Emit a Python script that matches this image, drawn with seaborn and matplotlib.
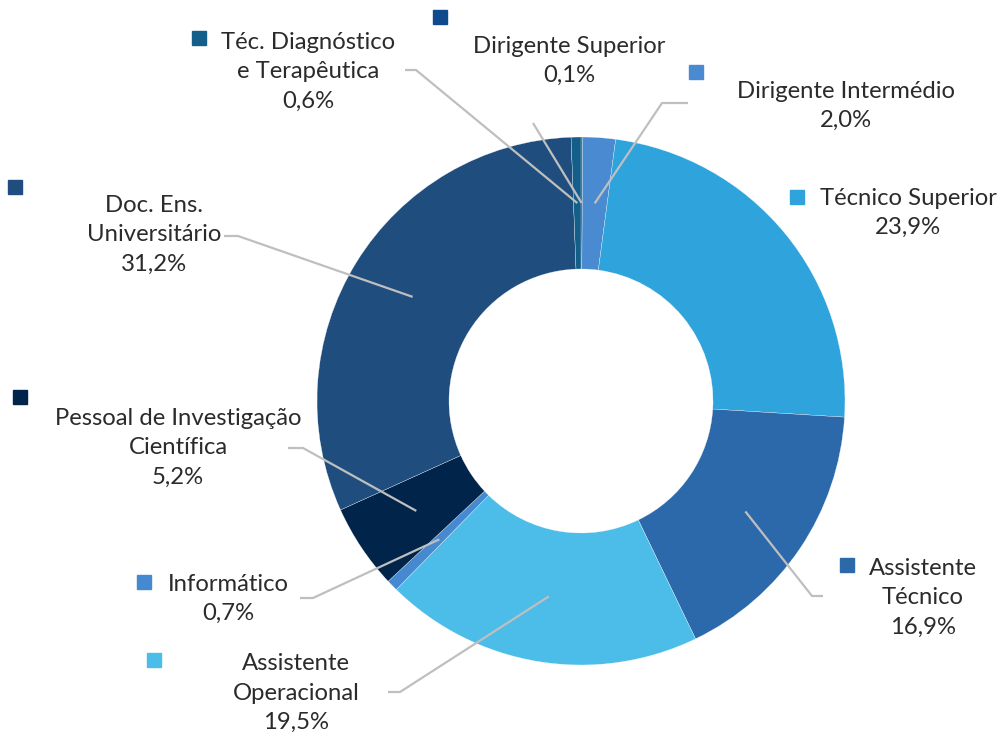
import numpy as np
import matplotlib
matplotlib.use("Agg")
import matplotlib.pyplot as plt
import seaborn as sns

# dados (% de trabalhadores por carreira), ordem no sentido horário a partir do topo
categorias = ["Dirigente Superior", "Dirigente Intermédio", "Técnico Superior",
              "Assistente\nTécnico", "Assistente\nOperacional", "Informático",
              "Pessoal de Investigação\nCientífica", "Doc. Ens.\nUniversitário",
              "Téc. Diagnóstico\ne Terapêutica"]
valores = [0.1, 2.0, 23.9, 16.9, 19.5, 0.7, 5.2, 31.2, 0.6]
cores = ["#0e4a8c", "#4a8ad0", "#2fa3dc", "#2b69ab", "#4bbde8",
         "#4589d0", "#00244a", "#1f4e7e", "#145f8a"]

# layout em pixels da imagem (x, y a partir do topo)
CX, CY, R = 581, 401, 264
pos_texto = [(569, 61), (846, 106), (908, 213), (923, 598), (296, 693),
             (228, 599), (178, 448), (154, 235), (308, 72)]
pos_quadrado = [(440, 17), (696, 72), (797, 197), (847, 565), (154, 660),
                (144, 582), (20, 397), (15, 187), (199, 38)]
# pontos do traço de ligação do lado do rótulo (o fim fica no meio do anel)
ligacoes = [[(533, 123)], [(688, 103), (662, 103)], [],
            [(823, 596), (812, 596)], [(388, 692), (400, 692)],
            [(300, 598), (313, 598)], [(288, 448), (303, 448)],
            [(224, 236), (238, 236)], [(405, 70), (416, 70)]]

W, H = 1004, 744

sns.set_theme(style="white")
plt.rcParams["font.family"] = ["Lato", "DejaVu Sans"]

fig = plt.figure(figsize=(W / 100, H / 100), dpi=100)
ax = fig.add_axes([0, 0, 1, 1])
ax.set_xlim(0, W)
ax.set_ylim(0, H)
ax.set_aspect("equal")
ax.axis("off")

wedges, _ = ax.pie(valores, colors=cores, startangle=90, counterclock=False,
                   center=(CX, H - CY), radius=R,
                   wedgeprops=dict(width=R * 0.5, edgecolor="white", linewidth=0.2))
ax.set_xlim(0, W)
ax.set_ylim(0, H)

for i, w in enumerate(wedges):
    ang = np.deg2rad((w.theta1 + w.theta2) / 2)
    fim = (CX + 0.75 * R * np.cos(ang), H - CY + 0.75 * R * np.sin(ang))
    pts = [(x, H - y) for x, y in ligacoes[i]]
    if pts:
        pts.append(fim)
        xs, ys = zip(*pts)
        ax.plot(xs, ys, color="#bfbfbf", lw=1.6, zorder=5, solid_capstyle="butt")

    pct = f"{valores[i]:.1f}".replace(".", ",") + "%"
    tx, ty = pos_texto[i]
    ax.text(tx, H - ty, categorias[i] + "\n" + pct, ha="center", va="center",
            fontsize=17.2, color="#2b2b2b", linespacing=1.48, zorder=6)
    qx, qy = pos_quadrado[i]
    ax.plot(qx, H - qy, marker="s", markersize=10, color=cores[i],
            linestyle="none", zorder=6)

fig.savefig("out.png", dpi=100)
